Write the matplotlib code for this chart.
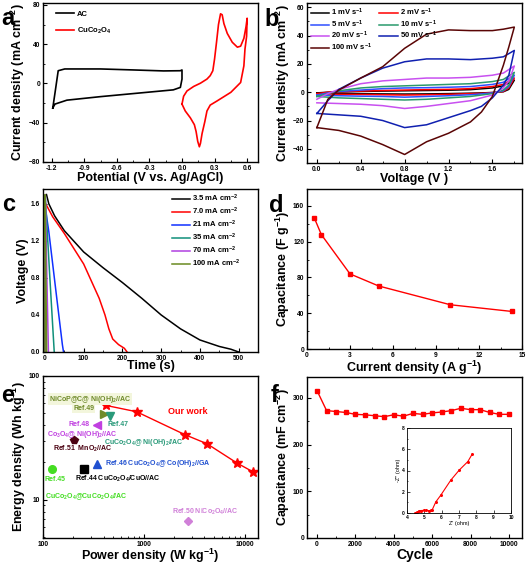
import matplotlib
matplotlib.use('Agg')
import matplotlib.pyplot as plt
from matplotlib.ticker import MultipleLocator, NullFormatter, FormatStrFormatter

plt.rcParams['font.family'] = ['Liberation Sans', 'DejaVu Sans']
plt.rcParams['font.weight'] = 'bold'
plt.rcParams['axes.labelweight'] = 'bold'
plt.rcParams['mathtext.fontset'] = 'custom'
plt.rcParams['mathtext.rm'] = 'Liberation Sans:bold'
plt.rcParams['mathtext.bf'] = 'Liberation Sans:bold'
plt.rcParams['mathtext.it'] = 'Liberation Sans:bold'
plt.rcParams['mathtext.default'] = 'rm'

# ---- panel a : CV of the two electrodes
ac_v = [-1.19, -1.17, -1.14, -1.08, -0.75, -0.45, -0.17, -0.015, 0.0, 0.0, -0.015, -0.08,
        -0.45, -0.75, -1.06, -1.17, -1.19]
ac_j = [-25, -10, 13, 14.8, 14.8, 13.8, 12.8, 13, 13.8, 4.5, -4, -6.5,
        -10.3, -13.4, -17, -21, -25]
cu_v = [0.0, 0.015, 0.046, 0.108, 0.17, 0.23, 0.26, 0.284, 0.30, 0.318, 0.336, 0.355, 0.37,
        0.386, 0.417, 0.463, 0.51, 0.54, 0.57, 0.59, 0.60,
        0.595, 0.58, 0.57, 0.54, 0.45, 0.32, 0.26, 0.23, 0.21, 0.185, 0.17, 0.16,
        0.145, 0.13, 0.114, 0.077, 0.03, 0.0]
cu_j = [-21, -13, -7.6, -3, 0.3, 4.5, 8, 13, 25, 42, 60, 71, 70,
        61, 51, 42, 37, 38, 46, 58, 66.5,
        48, 35, 18, 1, -9, -18, -22, -28, -39, -51, -61, -64.5,
        -59, -49, -42, -35, -28, -21]

# ---- panel b : CV at various scan rates
rates = ['1', '2', '5', '10', '20', '50', '100']
vb_up = [0.0, 0.1, 0.2, 0.4, 0.6, 0.8, 1.0, 1.2, 1.4, 1.6, 1.7, 1.8]
vb_dn = [1.8, 1.75, 1.7, 1.6, 1.5, 1.4, 1.2, 1.0, 0.8, 0.6, 0.4, 0.2, 0.0]
jb_up = {
    '1':   [-0.5, 0, 0.2, 0.5, 0.8, 1.0, 1.2, 1.4, 1.8, 3, 4.5, 8.5],
    '2':   [-1, 0, 0.3, 0.8, 1.2, 1.5, 1.8, 2, 2.5, 4, 5.5, 10],
    '5':   [-2, -0.5, 0.5, 1.5, 2.5, 3, 3.2, 3.5, 4, 5.5, 7, 12],
    '10':  [-3, -1, 1, 3, 4, 4.5, 5, 5.5, 6, 7.5, 9, 14],
    '20':  [-5, -1, 2, 6, 8, 9, 10, 10, 10.5, 12, 13.5, 18.5],
    '50':  [-15, -6, 2, 10, 17, 21.5, 23.5, 23.5, 23, 24, 25, 29.5],
    '100': [-25, -5, 1.5, 10, 18, 31, 41, 44, 43.5, 43.5, 44.5, 46],
}
jb_dn = {
    '1':   [8.5, 2, 0.3, -0.2, -0.5, -0.7, -1, -1.2, -1.3, -1.2, -1.1, -1, -0.5],
    '2':   [10, 3, 0.5, -0.3, -0.8, -1, -1.5, -1.8, -2, -1.8, -1.6, -1.5, -1],
    '5':   [12, 4, 1, -0.5, -1.2, -1.8, -2.5, -3, -3.5, -3, -2.8, -2.5, -2],
    '10':  [14, 5, 1.5, -1, -2, -3, -4, -5, -5.5, -5, -4.5, -4, -3],
    '20':  [18.5, 8, 3, -2, -4, -6, -8, -10, -11.5, -9.5, -8.5, -8, -7.5],
    '50':  [29.5, 12, 5, -4, -10, -13, -18, -23, -25, -20, -17, -16, -15],
    '100': [46, 32, 19, -3, -14, -21, -29, -35, -44, -37, -31, -27, -25],
}
b_colors = ['black', '#ff0000', '#2f4fff', '#2a9a6c', '#c850f0', '#1020b0', '#5a0505']

# ---- panel c : discharge curves
c_labels = ['3.5', '7.0', '21', '35', '70', '100']
c_t = [
    [4, 10, 25, 50, 100, 150, 200, 250, 300, 350, 400, 450, 480, 500],
    [2, 20, 50, 100, 140, 155, 165, 175, 190, 205, 212],
    [0, 3, 10, 30, 45, 48],
    [0, 1, 12, 24],
    [0, 1, 5, 9],
    [0, 0.5, 2.5, 4.5],
]
c_v = [
    [1.70, 1.60, 1.47, 1.31, 1.08, 0.91, 0.75, 0.58, 0.40, 0.25, 0.13, 0.06, 0.03, 0.0],
    [1.60, 1.46, 1.28, 0.95, 0.58, 0.40, 0.25, 0.14, 0.08, 0.04, 0.0],
    [0.0, 1.50, 1.30, 0.60, 0.08, 0.0],
    [0.0, 1.68, 0.85, 0.0],
    [0.0, 1.70, 0.80, 0.0],
    [0.0, 1.70, 0.80, 0.0],
]
c_colors = ['black', '#ff0000', '#1030ff', '#10907a', '#b040e0', '#6a8a20']

# ---- panel d : rate capability
d_i = [0.5, 1, 3, 5, 10, 14.3]
d_c = [147, 128, 84, 70.5, 49.5, 42]

# ---- panel e : Ragone plot
our_p = [423, 849, 2550, 4250, 8400, 12100]
our_e = [57.8, 51.4, 33.6, 28.3, 19.8, 16.8]
ref_p = [404, 463, 342, 201, 347, 258, 123, 2750]
ref_e = [49.5, 47.4, 40.5, 30.6, 19.4, 17.8, 17.8, 6.76]
ref_marker = ['>', 'v', '<', 'p', '^', 's', 'o', 'D']
ref_color = ['#6f8a2a', '#2a9a7a', '#c040e0', '#4a0010', '#2050d0', 'black', '#44dd22', '#d080d8']

# ---- panel f : cycling and EIS
cyc = [0, 500, 1000, 1500, 2000, 2500, 3000, 3500, 4000, 4500, 5000, 5500, 6000, 6500,
       7000, 7500, 8000, 8500, 9000, 9500, 10000]
cyc_cap = [316, 273, 271, 269, 265, 264, 262, 260, 264, 261, 267, 265, 268, 270,
           273, 278, 275, 275, 269, 265, 265]
z_re = [4.49, 4.6, 4.68, 4.8, 4.97, 5.1, 5.27, 5.38, 5.46, 5.66, 5.95, 6.53, 7.02, 7.51, 7.76]
z_im = [0.0, 0.08, 0.19, 0.23, 0.25, 0.24, 0.22, 0.24, 0.32, 1.04, 1.68, 3.1, 4.05, 4.84, 5.54]

W, H = 529, 564
fig = plt.figure(figsize=(W / 100, H / 100), dpi=100)


def box(l, r, t, b):
    return [l / W, (H - b) / H, (r - l) / W, (b - t) / H]


def style(ax, fs=4.8):
    for s in ax.spines.values():
        s.set_linewidth(1.0)
    ax.tick_params(which='both', direction='in', top=False, right=False, labelsize=fs, pad=2)
    ax.tick_params(which='major', length=3, width=0.8)
    ax.tick_params(which='minor', length=1.6, width=0.6)


lab = 9

# a
ax = fig.add_axes(box(43, 258, 3, 162))
ax.plot(ac_v, ac_j, color='black', lw=1.2, label='AC')
ax.plot(cu_v, cu_j, color='#ff0000', lw=1.2, label='CuCo$_2$O$_4$')
ax.set_xlim(-1.28, 0.70)
ax.set_ylim(-80, 82)
ax.xaxis.set_minor_locator(MultipleLocator(0.15))
ax.yaxis.set_major_locator(MultipleLocator(40))
ax.yaxis.set_minor_locator(MultipleLocator(20))
ax.set_xticks([-1.2, -0.9, -0.6, -0.3, 0.0, 0.3, 0.6])
ax.set_xticklabels(['-1.2', '-0.9', '-0.6', '-0.3', '0.0', '0.3', '0.6'])
style(ax)
ax.set_xlabel('Potential (V vs. Ag/AgCl)', fontsize=lab, labelpad=0)
ax.set_ylabel('Current density (mA cm$^{-2}$)', fontsize=lab, labelpad=1)
ax.legend(loc='upper left', bbox_to_anchor=(0.045, 0.97), frameon=False, fontsize=5.5,
          handlelength=2.4, handletextpad=0.4, labelspacing=1.0, borderaxespad=0)

# b
ax = fig.add_axes(box(307, 522, 3, 163))
hs = []
for r, c in zip(rates, b_colors):
    h, = ax.plot(vb_up + vb_dn, jb_up[r] + jb_dn[r], color=c, lw=1.1,
                 label=r + ' mV s$^{-1}$')
    hs.append(h)
ax.set_xlim(-0.09, 1.87)
ax.set_ylim(-50, 63)
ax.xaxis.set_major_locator(MultipleLocator(0.4))
ax.xaxis.set_minor_locator(MultipleLocator(0.2))
ax.yaxis.set_major_locator(MultipleLocator(20))
ax.yaxis.set_minor_locator(MultipleLocator(10))
ax.xaxis.set_major_formatter(FormatStrFormatter('%.1f'))
style(ax)
ax.set_xlabel('Voltage (V )', fontsize=lab, labelpad=0)
ax.set_ylabel('Current density (mA cm$^{-2}$)', fontsize=lab, labelpad=1)
ax.legend(handles=[hs[0], hs[2], hs[4], hs[6], hs[1], hs[3], hs[5]], ncol=2,
          loc='upper left', bbox_to_anchor=(0.0, 1.0), frameon=False, fontsize=5.5,
          handlelength=2.4, handletextpad=0.3, labelspacing=0.05, columnspacing=0.9,
          borderaxespad=0.1)

# c
ax = fig.add_axes(box(43, 258, 189, 352))
for t, v, c, l in zip(c_t, c_v, c_colors, c_labels):
    ax.plot(t, v, color=c, lw=1.1, label=l + ' mA cm$^{-2}$')
ax.set_xlim(-5, 550)
ax.set_ylim(0, 1.76)
ax.xaxis.set_major_locator(MultipleLocator(100))
ax.xaxis.set_minor_locator(MultipleLocator(50))
ax.yaxis.set_major_locator(MultipleLocator(0.4))
ax.yaxis.set_minor_locator(MultipleLocator(0.2))
ax.yaxis.set_major_formatter(FormatStrFormatter('%.1f'))
style(ax)
ax.set_xlabel('Time (s)', fontsize=lab, labelpad=-1)
ax.set_ylabel('Voltage (V)', fontsize=lab, labelpad=1)
ax.legend(loc='upper right', bbox_to_anchor=(0.93, 0.995), frameon=False, fontsize=5.5,
          handlelength=2.4, handletextpad=0.2, labelspacing=0.22, borderaxespad=0)

# d
ax = fig.add_axes(box(307, 522, 189, 349))
ax.plot(d_i, d_c, color='#ff0000', lw=1.0, marker='s', ms=3.5)
ax.set_xlim(0, 15)
ax.set_ylim(0, 179)
ax.xaxis.set_major_locator(MultipleLocator(3))
ax.xaxis.set_minor_locator(MultipleLocator(1.5))
ax.yaxis.set_major_locator(MultipleLocator(40))
ax.yaxis.set_minor_locator(MultipleLocator(20))
style(ax)
ax.set_xlabel('Current density (A g$^{-1}$)', fontsize=lab, labelpad=0)
ax.set_ylabel('Capacitance (F g$^{-1}$)', fontsize=lab, labelpad=1)

# e
ax = fig.add_axes(box(43, 258, 376, 538))
ax.set_xscale('log')
ax.set_yscale('log')
ax.plot(our_p, our_e, color='#ff0000', lw=1.0, marker='*', ms=7)
for x, y, m, c in zip(ref_p, ref_e, ref_marker, ref_color):
    ax.plot([x], [y], marker=m, color=c, ms=5.5 if m != 'D' else 4.5, ls='none')
ax.set_xlim(100, 13600)
ax.set_ylim(4.9, 100)
ax.set_xticks([100, 1000, 10000])
ax.set_xticklabels(['100', '1000', '10000'])
ax.set_yticks([10, 100])
ax.set_yticklabels(['10', '100'])
ax.xaxis.set_minor_formatter(NullFormatter())
ax.yaxis.set_minor_formatter(NullFormatter())
style(ax)
ax.set_xlabel('Power density (W kg$^{-1}$)', fontsize=lab, labelpad=-1)
ax.set_ylabel('Energy density (Wh kg$^{-1}$)', fontsize=lab, labelpad=1)
e_texts = [
    ('NiCoP@C@ Ni(OH)$_2$//AC', 0.028, 0.858, '#6f8a2a', True),
    ('Ref.49', 0.14, 0.80, '#6f8a2a', True),
    ('Ref.47', 0.30, 0.70, '#2a9a7a', False),
    ('Ref.48', 0.12, 0.70, '#c040e0', False),
    ('Co$_3$O$_4$@ Ni(OH)$_2$//AC', 0.019, 0.64, '#c040e0', False),
    ('CuCo$_2$O$_4$@ Ni(OH)$_2$//AC', 0.284, 0.59, '#2a9a7a', False),
    ('Ref.51  MnO$_2$//AC', 0.047, 0.55, '#4a0010', False),
    ('Our work', 0.58, 0.78, '#ff0000', False),
    ('Ref.46 CuCo$_2$O$_4$@ Co(OH)$_2$//GA', 0.288, 0.457, '#2050d0', False),
    ('Ref.45', 0.009, 0.364, '#44dd22', False),
    ('Ref.44 CuCo$_2$O$_4$/CuO//AC', 0.149, 0.364, 'black', False),
    ('CuCo$_2$O$_4$@CuCo$_2$O$_4$//AC', 0.009, 0.253, '#44dd22', False),
    ('Ref.50 NiCo$_2$O$_4$//AC', 0.60, 0.16, '#d080d8', False),
]
for s, fx, fy, c, bg in e_texts:
    kw = {}
    if bg:
        kw['bbox'] = dict(facecolor='#f3f6dc', edgecolor='none', pad=0.6)
    ax.text(fx, fy, s, transform=ax.transAxes, color=c, fontsize=5 if s != 'Our work' else 6.5,
            va='center', ha='left', **kw)

# f
ax = fig.add_axes(box(307, 522, 377, 538))
ax.plot(cyc, cyc_cap, color='#ff0000', lw=1.0, marker='s', ms=3)
ax.set_xlim(-520, 10680)
ax.set_ylim(0, 345)
ax.xaxis.set_major_locator(MultipleLocator(2000))
ax.xaxis.set_minor_locator(MultipleLocator(1000))
ax.yaxis.set_major_locator(MultipleLocator(100))
ax.yaxis.set_minor_locator(MultipleLocator(50))
style(ax)
ax.set_xlabel('Cycle', fontsize=lab + 1, labelpad=0)
ax.set_ylabel('Capacitance (mF cm$^{-2}$)', fontsize=lab, labelpad=1)

ins = fig.add_axes(box(407, 511, 428, 513))
ins.plot(z_re, z_im, color='#ff0000', lw=0.8, marker='o', ms=1.2)
ins.set_xlim(4, 10)
ins.set_ylim(0, 8)
ins.xaxis.set_major_locator(MultipleLocator(1))
ins.yaxis.set_major_locator(MultipleLocator(2))
ins.yaxis.set_minor_locator(MultipleLocator(1))
for s in ins.spines.values():
    s.set_linewidth(0.6)
ins.tick_params(which='both', direction='in', labelsize=3.5, pad=1.5, width=0.5)
ins.tick_params(which='major', length=2)
ins.tick_params(which='minor', length=1)
ins.set_xlabel("Z' (ohm)", fontsize=4, labelpad=1, fontweight='normal')
ins.set_ylabel("-Z'' (ohm)", fontsize=4, labelpad=1, fontweight='normal')

# panel letters
for ch, px, py in [('a', 1, 25), ('b', 264, 26), ('c', 2, 211), ('d', 269, 212),
                   ('e', 1, 402), ('f', 271, 402)]:
    fig.text(px / W, (H - py) / H, ch, fontsize=17, fontweight='bold', ha='left', va='baseline')

fig.savefig('out.png', dpi=100)
